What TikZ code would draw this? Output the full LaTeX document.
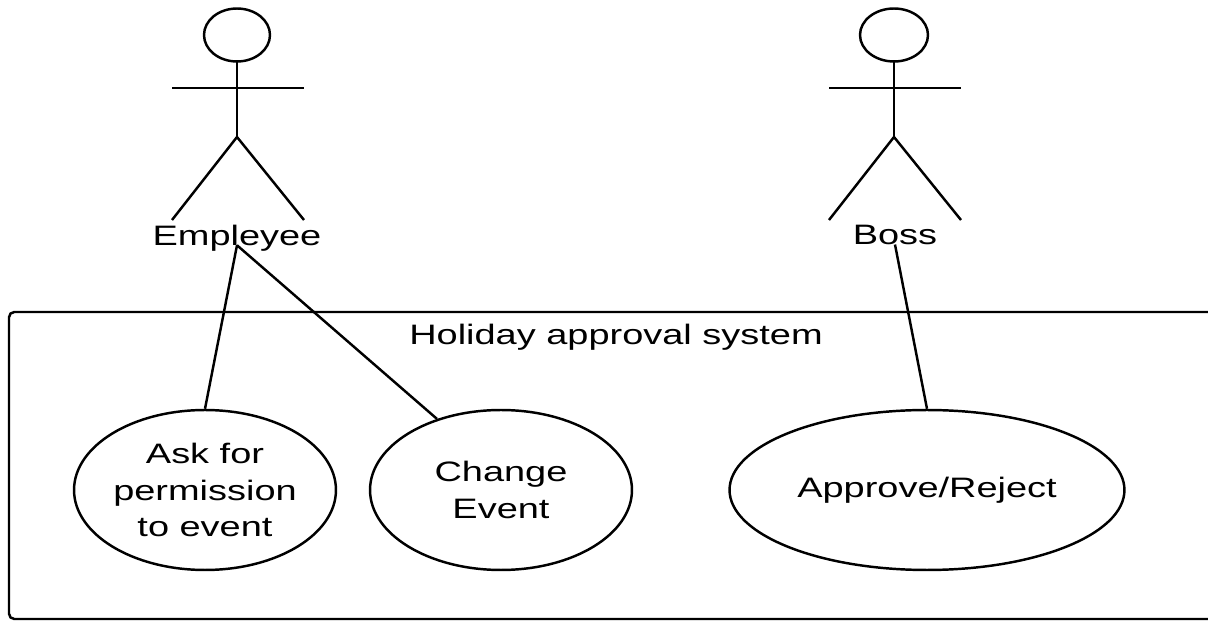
\documentclass[tikz,border=0pt]{standalone}
\usepackage{fontspec}
\setmainfont{Liberation Sans}[FakeStretch=1.35]
\usetikzlibrary{shapes.geometric}

\begin{document}
\begin{tikzpicture}[x=0.02cm, y=-0.02cm, line width=1.4pt, font=\fontsize{16}{20.8}\selectfont]
			\tikzstyle{usecase} = [ellipse, minimum width=5.24cm, minimum height=3.2cm, inner sep=0pt, align=center, draw=black]
			\tikzstyle{actor} = [inner sep=0pt, text centered]
			\tikzstyle{stick} = [draw=black]

			\useasboundingbox (0,0) rectangle (1208,621);
			\clip (0,0) rectangle (1208,621);

			% system boundary
			\draw [rounded corners=3pt] (9,312) rectangle (1240,619);
			\node (sys) at (616,337) {Holiday approval system};

			% actors
			\draw [stick] (237,35) ellipse [x radius=0.66cm, y radius=0.53cm];
			\draw [stick] (237,62) -- (237,137);
			\draw [stick] (172,88) -- (304,88);
			\draw [stick] (172,220) -- (237,137) -- (304,220);
			\node (employee) at (237,238) [actor] {Empleyee};

			\draw [stick] (894,35) ellipse [x radius=0.68cm, y radius=0.53cm];
			\draw [stick] (894,62) -- (894,137);
			\draw [stick] (829,88) -- (961,88);
			\draw [stick] (829,220) -- (894,137) -- (961,220);
			\node (boss) at (895,235) [actor] {Boss};

			% use cases
			\node (ask) at (205,490) [usecase] {Ask for\\permission\\to event};
			\node (change) at (501,490) [usecase] {Change\\Event};
			\node (approve) at (927,490) [usecase, minimum width=7.9cm] {Approve/Reject};

			\draw (employee.base) -- (ask.north);
			\draw (employee.base) -- (change.132);
			\draw (boss.base) -- (approve.north);

			%\draw [dashed] (boss.base) -- (change);

		\end{tikzpicture}
\end{document}
